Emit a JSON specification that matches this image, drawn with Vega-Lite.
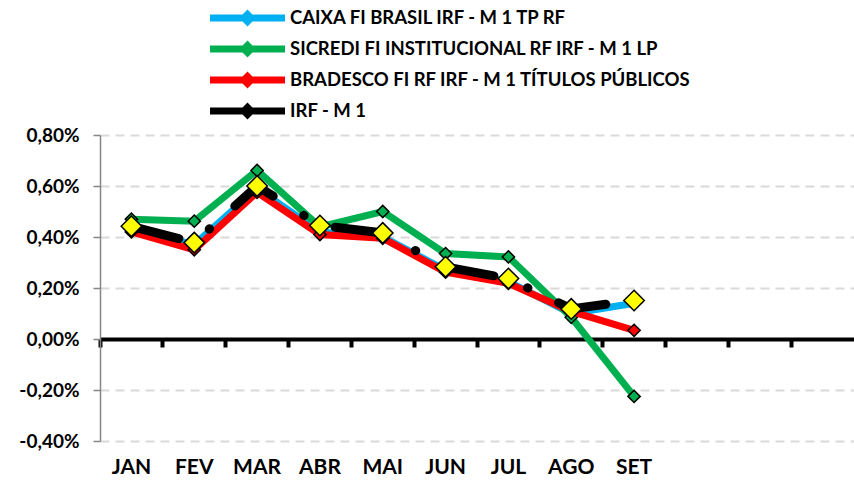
{
  "$schema": "https://vega.github.io/schema/vega-lite/v6.json",
  "width": 754,
  "height": 306,
  "autosize": "none",
  "padding": {"left": 100, "top": 135, "right": 0, "bottom": 44},
  "background": "white",
  "config": {
    "view": {"stroke": null},
    "font": "Lato",
    "legend": {
      "orient": "none",
      "legendX": 110,
      "legendY": -128,
      "title": null,
      "symbolType": "M-1.35,0H6.15M2.05,0L2.4,-0.35L2.75,0L2.4,0.35Z",
      "symbolSize": 400,
      "symbolStrokeWidth": 7,
      "labelFont": "Lato",
      "labelFontSize": 18.5,
      "labelFontWeight": "bold",
      "labelColor": "black",
      "labelLimit": 0,
      "labelOffset": 53,
      "clipHeight": 22,
      "rowPadding": 9
    }
  },
  "data": {
    "values": [
      {"mes": "JAN", "serie": "CAIXA FI BRASIL IRF - M 1 TP RF", "valor": 0.43},
      {"mes": "FEV", "serie": "CAIXA FI BRASIL IRF - M 1 TP RF", "valor": 0.37},
      {"mes": "MAR", "serie": "CAIXA FI BRASIL IRF - M 1 TP RF", "valor": 0.59},
      {"mes": "ABR", "serie": "CAIXA FI BRASIL IRF - M 1 TP RF", "valor": 0.42},
      {"mes": "MAI", "serie": "CAIXA FI BRASIL IRF - M 1 TP RF", "valor": 0.40},
      {"mes": "JUN", "serie": "CAIXA FI BRASIL IRF - M 1 TP RF", "valor": 0.27},
      {"mes": "JUL", "serie": "CAIXA FI BRASIL IRF - M 1 TP RF", "valor": 0.225},
      {"mes": "AGO", "serie": "CAIXA FI BRASIL IRF - M 1 TP RF", "valor": 0.10},
      {"mes": "SET", "serie": "CAIXA FI BRASIL IRF - M 1 TP RF", "valor": 0.14},
      {"mes": "JAN", "serie": "SICREDI FI INSTITUCIONAL RF IRF - M 1 LP", "valor": 0.47},
      {"mes": "FEV", "serie": "SICREDI FI INSTITUCIONAL RF IRF - M 1 LP", "valor": 0.462},
      {"mes": "MAR", "serie": "SICREDI FI INSTITUCIONAL RF IRF - M 1 LP", "valor": 0.661},
      {"mes": "ABR", "serie": "SICREDI FI INSTITUCIONAL RF IRF - M 1 LP", "valor": 0.44},
      {"mes": "MAI", "serie": "SICREDI FI INSTITUCIONAL RF IRF - M 1 LP", "valor": 0.50},
      {"mes": "JUN", "serie": "SICREDI FI INSTITUCIONAL RF IRF - M 1 LP", "valor": 0.335},
      {"mes": "JUL", "serie": "SICREDI FI INSTITUCIONAL RF IRF - M 1 LP", "valor": 0.322},
      {"mes": "AGO", "serie": "SICREDI FI INSTITUCIONAL RF IRF - M 1 LP", "valor": 0.085},
      {"mes": "SET", "serie": "SICREDI FI INSTITUCIONAL RF IRF - M 1 LP", "valor": -0.225},
      {"mes": "JAN", "serie": "BRADESCO FI RF IRF - M 1 TÍTULOS PÚBLICOS", "valor": 0.42},
      {"mes": "FEV", "serie": "BRADESCO FI RF IRF - M 1 TÍTULOS PÚBLICOS", "valor": 0.35},
      {"mes": "MAR", "serie": "BRADESCO FI RF IRF - M 1 TÍTULOS PÚBLICOS", "valor": 0.575},
      {"mes": "ABR", "serie": "BRADESCO FI RF IRF - M 1 TÍTULOS PÚBLICOS", "valor": 0.41},
      {"mes": "MAI", "serie": "BRADESCO FI RF IRF - M 1 TÍTULOS PÚBLICOS", "valor": 0.395},
      {"mes": "JUN", "serie": "BRADESCO FI RF IRF - M 1 TÍTULOS PÚBLICOS", "valor": 0.262},
      {"mes": "JUL", "serie": "BRADESCO FI RF IRF - M 1 TÍTULOS PÚBLICOS", "valor": 0.218},
      {"mes": "AGO", "serie": "BRADESCO FI RF IRF - M 1 TÍTULOS PÚBLICOS", "valor": 0.108},
      {"mes": "SET", "serie": "BRADESCO FI RF IRF - M 1 TÍTULOS PÚBLICOS", "valor": 0.034},
      {"mes": "JAN", "serie": "IRF - M 1", "valor": 0.442},
      {"mes": "FEV", "serie": "IRF - M 1", "valor": 0.378},
      {"mes": "MAR", "serie": "IRF - M 1", "valor": 0.60},
      {"mes": "ABR", "serie": "IRF - M 1", "valor": 0.445},
      {"mes": "MAI", "serie": "IRF - M 1", "valor": 0.416},
      {"mes": "JUN", "serie": "IRF - M 1", "valor": 0.283},
      {"mes": "JUL", "serie": "IRF - M 1", "valor": 0.237},
      {"mes": "AGO", "serie": "IRF - M 1", "valor": 0.118},
      {"mes": "SET", "serie": "IRF - M 1", "valor": 0.151}
    ]
  },
  "resolve": {"axis": {"x": "independent"}},
  "layer": [
    {
      "transform": [{"filter": "datum.serie === 'CAIXA FI BRASIL IRF - M 1 TP RF'"}],
      "mark": {"type": "line", "strokeWidth": 7},
      "encoding": {
        "x": {
          "field": "mes", "type": "ordinal", "bandPosition": 0.5,
          "scale": {"type": "band", "domain": ["JAN","FEV","MAR","ABR","MAI","JUN","JUL","AGO","SET","OUT","NOV","DEZ"], "paddingInner": 0, "paddingOuter": 0},
          "axis": {
            "orient": "bottom", "title": null, "offset": -102, "bandPosition": 0,
            "labels": false, "grid": false,
            "domain": true, "domainColor": "black", "domainWidth": 4,
            "ticks": true, "tickColor": "black", "tickWidth": 4, "tickSize": 8
          }
        },
        "y": {
          "field": "valor", "type": "quantitative",
          "scale": {"domain": [-0.4, 0.8], "nice": false, "zero": false},
          "axis": {
            "title": null,
            "values": [-0.4, -0.2, 0, 0.2, 0.4, 0.6, 0.8],
            "labelExpr": "(datum.value < 0 ? '-' : '') + replace(format(abs(datum.value), '.2f'), '.', ',') + '%'",
            "labelFont": "Lato", "labelFontSize": 19, "labelFontWeight": "bold", "labelColor": "black",
            "labelPadding": 14,
            "grid": true, "gridColor": "#d9d9d9", "gridDash": [9, 6], "gridWidth": 2,
            "domainColor": "#868686", "domainWidth": 1.5,
            "tickColor": "#868686", "tickWidth": 1.5, "tickSize": 7
          }
        },
        "stroke": {
          "field": "serie", "type": "nominal",
          "scale": {
            "domain": ["CAIXA FI BRASIL IRF - M 1 TP RF", "SICREDI FI INSTITUCIONAL RF IRF - M 1 LP", "BRADESCO FI RF IRF - M 1 TÍTULOS PÚBLICOS", "IRF - M 1"],
            "range": ["#00b0f0", "#00b050", "#ff0000", "#000000"]
          }
        }
      }
    },
    {
      "transform": [{"filter": "datum.serie === 'CAIXA FI BRASIL IRF - M 1 TP RF'"}],
      "mark": {"type": "point", "shape": "diamond", "filled": true, "size": 150, "stroke": "black", "strokeWidth": 1.5, "opacity": 1},
      "encoding": {
        "x": {"field": "mes", "type": "ordinal", "bandPosition": 0.5, "axis": null},
        "y": {"field": "valor", "type": "quantitative"},
        "fill": {
          "field": "serie", "type": "nominal",
          "scale": {
            "domain": ["CAIXA FI BRASIL IRF - M 1 TP RF", "SICREDI FI INSTITUCIONAL RF IRF - M 1 LP", "BRADESCO FI RF IRF - M 1 TÍTULOS PÚBLICOS", "IRF - M 1"],
            "range": ["#00b0f0", "#00b050", "#ff0000", "#ffff00"]
          }
        }
      }
    },
    {
      "transform": [{"filter": "datum.serie === 'SICREDI FI INSTITUCIONAL RF IRF - M 1 LP'"}],
      "mark": {"type": "line", "strokeWidth": 7},
      "encoding": {
        "x": {
          "field": "mes", "type": "ordinal", "bandPosition": 0.5,
          "axis": {
            "orient": "bottom", "title": null, "domain": false, "ticks": false, "grid": false,
            "labelFont": "Lato", "labelFontSize": 21, "labelFontWeight": "bold", "labelColor": "black",
            "labelPadding": 15, "labelAngle": 0,
            "labelExpr": "indexof(['OUT','NOV','DEZ'], datum.value) >= 0 ? '' : datum.value"
          }
        },
        "y": {"field": "valor", "type": "quantitative"},
        "stroke": {"field": "serie", "type": "nominal"}
      }
    },
    {
      "transform": [{"filter": "datum.serie === 'SICREDI FI INSTITUCIONAL RF IRF - M 1 LP'"}],
      "mark": {"type": "point", "shape": "diamond", "filled": true, "size": 150, "stroke": "black", "strokeWidth": 1.5, "opacity": 1},
      "encoding": {
        "x": {"field": "mes", "type": "ordinal", "bandPosition": 0.5, "axis": null},
        "y": {"field": "valor", "type": "quantitative"},
        "fill": {"field": "serie", "type": "nominal"}
      }
    },
    {
      "transform": [{"filter": "datum.serie === 'BRADESCO FI RF IRF - M 1 TÍTULOS PÚBLICOS'"}],
      "mark": {"type": "line", "strokeWidth": 7},
      "encoding": {
        "x": {"field": "mes", "type": "ordinal", "bandPosition": 0.5, "axis": null},
        "y": {"field": "valor", "type": "quantitative"},
        "stroke": {"field": "serie", "type": "nominal"}
      }
    },
    {
      "transform": [{"filter": "datum.serie === 'BRADESCO FI RF IRF - M 1 TÍTULOS PÚBLICOS'"}],
      "mark": {"type": "point", "shape": "diamond", "filled": true, "size": 150, "stroke": "black", "strokeWidth": 1.5, "opacity": 1},
      "encoding": {
        "x": {"field": "mes", "type": "ordinal", "bandPosition": 0.5, "axis": null},
        "y": {"field": "valor", "type": "quantitative"},
        "fill": {"field": "serie", "type": "nominal"}
      }
    },
    {
      "transform": [{"filter": "datum.serie === 'IRF - M 1'"}],
      "mark": {"type": "line", "strokeWidth": 9, "strokeCap": "round", "strokeDash": [49, 36, 0.5, 34]},
      "encoding": {
        "x": {"field": "mes", "type": "ordinal", "bandPosition": 0.5, "axis": null},
        "y": {"field": "valor", "type": "quantitative"},
        "stroke": {"field": "serie", "type": "nominal"}
      }
    },
    {
      "transform": [{"filter": "datum.serie === 'IRF - M 1'"}],
      "mark": {"type": "point", "shape": "diamond", "filled": true, "size": 420, "stroke": "black", "strokeWidth": 1.5, "opacity": 1},
      "encoding": {
        "x": {"field": "mes", "type": "ordinal", "bandPosition": 0.5, "axis": null},
        "y": {"field": "valor", "type": "quantitative"},
        "fill": {"field": "serie", "type": "nominal"}
      }
    }
  ]
}
